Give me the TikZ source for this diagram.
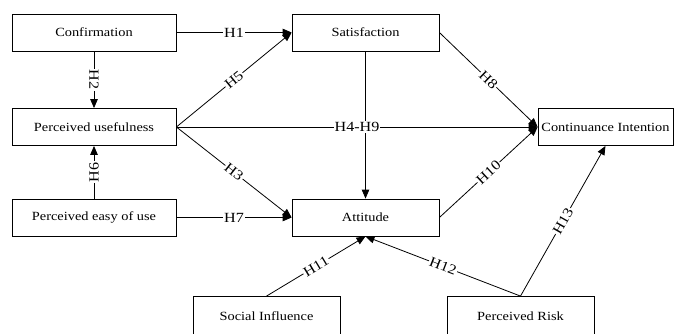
\documentclass[tikz,border=0pt]{standalone}
\usepackage{fontspec}
\setmainfont{Liberation Serif}[FakeStretch=1.15]
\usetikzlibrary{arrows.meta}
\begin{document}
\begin{tikzpicture}[x=1pt,y=-1pt,
    box/.style={draw,line width=0.8pt,minimum height=37pt,inner sep=0pt,font=\fontsize{12.5}{14}\selectfont},
    arr/.style={line width=0.8pt,-{Triangle[length=9pt,width=7.5pt]}},
    lbl/.style={fill=white,inner sep=1pt,font=\fontsize{14}{16}\selectfont}]
        \useasboundingbox (0,0) rectangle (674,334);

        \node (conf) at (94,32.5) [box,minimum width=164pt] {Confirmation};
        \node (pu) at (94,127) [box,minimum width=164pt] {Perceived usefulness};
        \node (peou) at (94,217.5) [box,minimum width=164pt] {Perceived easy of use};
        \node (sat) at (365.5,32.5) [box,minimum width=147pt] {Satisfaction};
        \node (att) at (365.5,217.5) [box,minimum width=147pt] {Attitude};
        \node (ci) at (605.5,127) [box,minimum width=135pt] {Continuance Intention};
        \node (si) at (266.5,316.5) [box,minimum width=147pt,minimum height=40pt] {Social Influence};
        \node (pr) at (520.5,316.5) [box,minimum width=147pt,minimum height=40pt] {Perceived Risk};

        \draw[arr] (sat) -- (att);
        \draw[arr] (conf) -- (sat) node[midway,lbl] {H1};
        \draw[arr] (conf) -- (pu) node[midway,lbl,rotate=-90] {H2};
        \draw[arr] (peou) -- (pu) node[midway,lbl,rotate=90] {H6};
        \draw[arr] (pu.east) -- (sat.west) node[midway,lbl,sloped] {H5};
        \draw[arr] (pu.east) -- (ci.west) node[midway,lbl] {H4-H9};
        \draw[arr] (pu.east) -- (att.west) node[midway,lbl,sloped] {H3};
        \draw[arr] (peou) -- (att) node[midway,lbl] {H7};
        \draw[arr] (sat.east) -- (ci.west) node[midway,lbl,sloped] {H8};
        \draw[arr] (att.east) -- (ci.west) node[midway,lbl,sloped] {H10};
        \draw[arr] (si.north) -- (att.south) node[midway,lbl,sloped] {H11};
        \draw[arr] (pr.north) -- (att.south) node[midway,lbl,sloped] {H12};
        \draw[arr] (pr.north) -- (ci.south) node[midway,lbl,sloped] {H13};
    \end{tikzpicture}
\end{document}
